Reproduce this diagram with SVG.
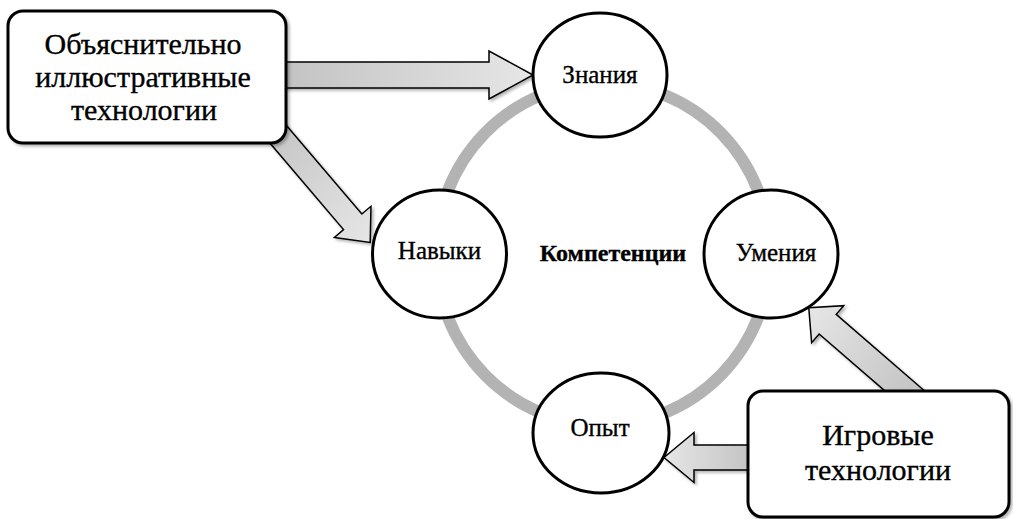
<svg xmlns="http://www.w3.org/2000/svg" width="1013" height="519" viewBox="0 0 1013 519">
<defs>
<style>
.box{fill:#fff;stroke:#000;stroke-width:3}
.node{fill:#fff;stroke:#000;stroke-width:3}
.arrow{fill:url(#ag);stroke:#000;stroke-width:1.5;stroke-linejoin:miter}
.ring{fill:none;stroke:#b3b3b3;stroke-width:12}
text{font-family:'Liberation Serif','Times New Roman',serif;fill:#000;stroke:#000;stroke-width:0.35;text-anchor:middle}
.bt{font-size:30px}
.ct{font-size:25px}
.cc{font-size:24px;font-weight:bold}
</style>
<linearGradient id="ag" x1="0" y1="0" x2="1" y2="0">
<stop offset="0" stop-color="#c2c2c2"/>
<stop offset="1" stop-color="#e6e6e6"/>
</linearGradient>
<filter id="sh" x="-20%" y="-20%" width="140%" height="140%">
<feDropShadow dx="2" dy="2" stdDeviation="1.5" flood-color="#000" flood-opacity="0.3"/>
</filter>
</defs>
<rect width="1013" height="519" fill="#fff"/>
<g id="connectors">
<ellipse class="ring" cx="603" cy="254" rx="167" ry="171"/>
<g filter="url(#sh)">
<path class="arrow" transform="translate(284,75)" d="M-6,-13 L205,-13 L205,-24 L249,0 L205,24 L205,13 L-6,13 Z"/>
</g>
<g filter="url(#sh)">
<path class="arrow" transform="translate(277.5,133.5) rotate(49.6)" d="M-20,-12 L116,-12 L116,-24 L143,0 L116,24 L116,12 L-20,12 Z"/>
</g>
<g filter="url(#sh)">
<path class="arrow" transform="translate(902.5,389) rotate(-139.1)" d="M-20,-13 L99,-13 L99,-24.5 L124,0 L99,24.5 L99,13 L-20,13 Z"/>
</g>
<g filter="url(#sh)">
<path class="arrow" transform="translate(748,457.5) rotate(180)" d="M-6,-12.5 L54,-12.5 L54,-25 L84,0 L54,25 L54,12.5 L-6,12.5 Z"/>
</g>
</g>
<g id="box-explain">
<rect class="box" x="8" y="11" width="278" height="132" rx="15" filter="url(#sh)"/>
<text class="bt" x="143" y="54">Объяснительно</text>
<text class="bt" x="143" y="87">иллюстративные</text>
<text class="bt" x="144" y="120">технологии</text>
</g>
<g id="box-game">
<rect class="box" x="748" y="391" width="261" height="126" rx="15" filter="url(#sh)"/>
<text class="bt" x="878" y="445">Игровые</text>
<text class="bt" x="878" y="480">технологии</text>
</g>
<g id="node-znaniya">
<ellipse class="node" cx="600" cy="75" rx="67" ry="62"/>
<text class="ct" x="600" y="83">Знания</text>
</g>
<g id="node-navyki">
<ellipse class="node" cx="439.5" cy="254" rx="67" ry="64"/>
<text class="ct" x="439.5" y="259">Навыки</text>
</g>
<g id="node-umeniya">
<ellipse class="node" cx="771" cy="254" rx="67" ry="64"/>
<text class="ct" x="776" y="261">Умения</text>
</g>
<g id="node-opyt">
<ellipse class="node" cx="601" cy="433" rx="68" ry="60"/>
<text class="ct" x="600" y="436">Опыт</text>
</g>
<g id="center">
<text class="cc" x="613" y="261">Компетенции</text>
</g>
</svg>
